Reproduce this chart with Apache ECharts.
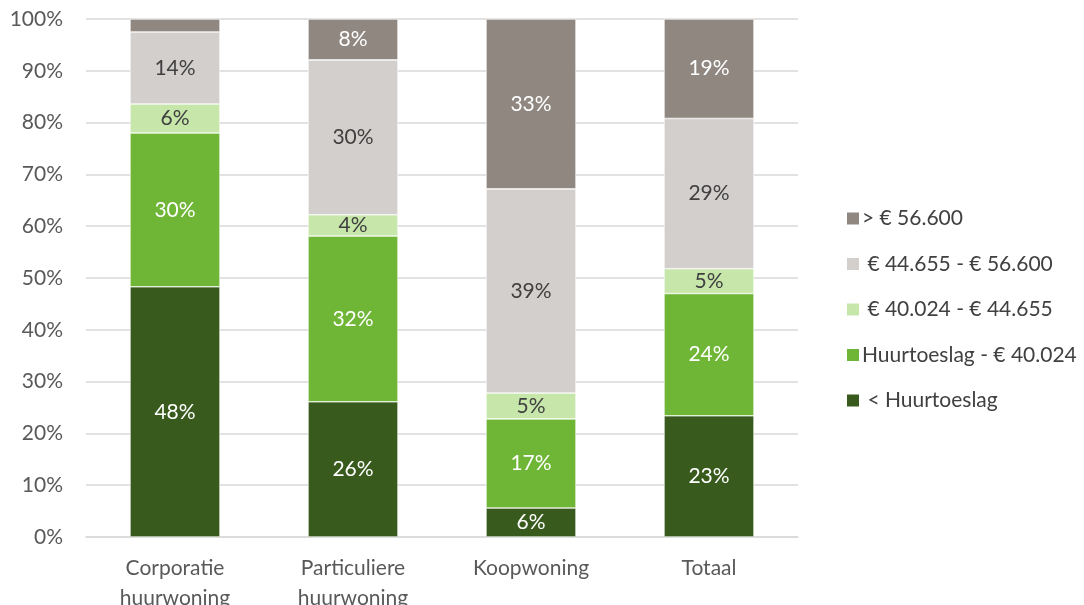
<!DOCTYPE html>
<html>
<head>
<meta charset="utf-8">
<script src="https://cdn.jsdelivr.net/npm/echarts@6/dist/echarts.min.js"></script>
<style>
  html, body { margin: 0; padding: 0; background: #fff; }
  #chart { width: 1084px; height: 605px; }
</style>
</head>
<body>
<div id="chart"></div>
<script>
  // categorieën (x-as)
  var categories = ['Corporatie\nhuurwoning', 'Particuliere\nhuurwoning', 'Koopwoning', 'Totaal'];
  // aandelen in procenten per inkomensklasse
  var lt_huurtoeslag = [48.3, 26.1, 5.6, 23.4];
  var huurtoeslag_40024 = [29.7, 32.0, 17.2, 23.6];
  var v40024_44655 = [5.6, 4.1, 5.0, 4.8];
  var v44655_56600 = [13.9, 29.9, 39.4, 29.0];
  var gt_56600 = [2.5, 7.9, 32.8, 19.2];
  var yTicks = [0, 10, 20, 30, 40, 50, 60, 70, 80, 90, 100];

  var chart = echarts.init(document.getElementById('chart'));
  var font = 'Lato, "Open Sans", sans-serif';

  function mkSeries(name, data, color, labelColor) {
    return {
      name: name,
      type: 'bar',
      stack: 'totaal',
      barWidth: 90,
      data: data,
      itemStyle: { color: color, borderColor: '#ffffff', borderWidth: 0.6 },
      label: {
        show: true,
        position: 'inside',
        color: labelColor,
        fontFamily: font,
        fontSize: 21,
        formatter: function (p) {
          return p.value < 3 ? '' : Math.round(p.value) + '%';
        }
      }
    };
  }

  chart.setOption({
    animation: false,
    grid: { left: 86, right: 286, top: 19, bottom: 68, containLabel: false, outerBoundsMode: 'none' },
    legend: {
      orient: 'vertical',
      left: 840,
      top: 203,
      itemWidth: 14,
      itemHeight: 14,
      itemGap: 24.5,
      icon: 'rect',
      textStyle: { fontFamily: font, fontSize: 21, lineHeight: 21, color: '#404040', padding: [0, 0, 0, -3] },
      data: ['> € 56.600', ' € 44.655 - € 56.600', ' € 40.024 - € 44.655', 'Huurtoeslag - € 40.024', ' < Huurtoeslag']
    },
    xAxis: {
      type: 'category',
      data: categories,
      axisTick: { show: false },
      axisLine: { lineStyle: { color: '#d9d9d9', width: 1.5 } },
      axisLabel: {
        fontFamily: font,
        fontSize: 21,
        color: '#595959',
        margin: 16,
        lineHeight: 30,
        interval: 0
      }
    },
    yAxis: {
      type: 'value',
      min: 0,
      max: 100,
      interval: 10,
      axisLine: { show: false },
      axisTick: { show: false },
      splitLine: { lineStyle: { color: '#d9d9d9', width: 1.5 } },
      axisLabel: {
        fontFamily: font,
        fontSize: 21,
        color: '#595959',
        margin: 23,
        formatter: function (v) { return yTicks.indexOf(v) >= 0 ? v + '%' : ''; }
      }
    },
    series: [
      mkSeries(' < Huurtoeslag', lt_huurtoeslag, '#385a1d', '#ffffff'),
      mkSeries('Huurtoeslag - € 40.024', huurtoeslag_40024, '#6fb636', '#ffffff'),
      mkSeries(' € 40.024 - € 44.655', v40024_44655, '#c6e6aa', '#404040'),
      mkSeries(' € 44.655 - € 56.600', v44655_56600, '#d3cfcd', '#404040'),
      mkSeries('> € 56.600', gt_56600, '#8f8780', '#ffffff')
    ]
  });
</script>
</body>
</html>
